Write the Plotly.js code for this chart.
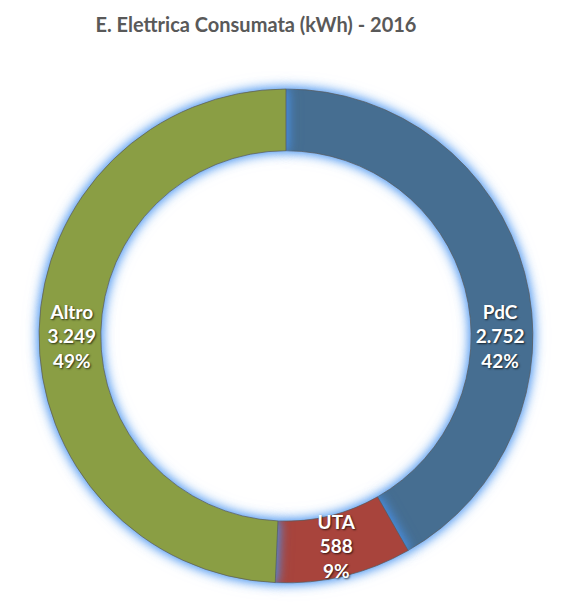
<!DOCTYPE html>
<html>
<head>
<meta charset="utf-8">
<script src="https://cdn.plot.ly/plotly-3.0.1.min.js"></script>
<style>
  html, body { margin: 0; padding: 0; background: #fff; }
  #chart { width: 583px; height: 613px; }
  .slice path.surface {
    filter: drop-shadow(0 0 6px rgba(60,140,240,0.85)) drop-shadow(0 0 4px rgba(90,160,240,0.6));
  }
  .slice text { text-shadow: 1px 1px 2px rgba(0,0,0,0.7); }
</style>
</head>
<body>
<div id="chart"></div>
<script>
// Dati
const categories = ['PdC', 'UTA', 'Altro'];
const consumi = [2752, 588, 3249];
const colori = ['#466E91', '#A8443C', '#8A9E44'];

const trace = {
  type: 'pie',
  labels: categories,
  values: consumi,
  sort: false,
  direction: 'clockwise',
  rotation: 0,
  hole: 0.75,
  marker: { colors: colori, line: { color: 'rgba(90,90,90,0.7)', width: 1 } },
  texttemplate: '%{label}<br>%{value:,}<br>%{percent:.0%}',
  textposition: 'inside',
  insidetextorientation: 'horizontal',
  textfont: { family: 'Lato, sans-serif', size: 19, color: '#ffffff', weight: 'bold' },
  domain: { x: [0.067, 0.914], y: [0.049, 0.855] },
  showlegend: false,
  hoverinfo: 'label+value+percent'
};

const layout = {
  width: 583,
  height: 613,
  margin: { l: 0, r: 0, t: 0, b: 0 },
  paper_bgcolor: '#ffffff',
  separators: ',.',
  uniformtext: { minsize: 19, mode: 'show' },
  title: {
    text: 'E. Elettrica Consumata (kWh) - 2016',
    font: { family: 'Lato, sans-serif', size: 20, color: '#595959', weight: 'bold' },
    x: 0.439,
    xanchor: 'center',
    y: 0.96,
    yanchor: 'middle'
  }
};

Plotly.newPlot('chart', [trace], layout, { displayModeBar: false, staticPlot: true });
</script>
</body>
</html>
